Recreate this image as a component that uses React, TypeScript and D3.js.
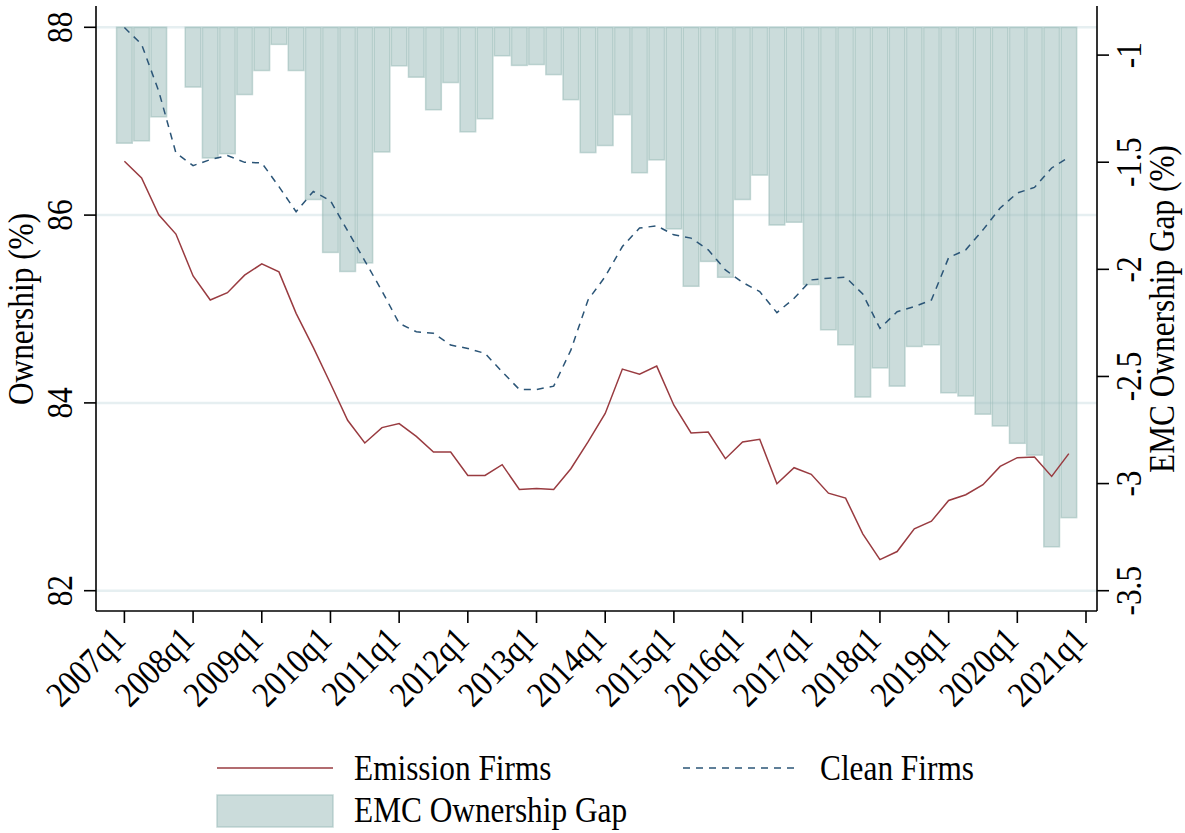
import React from "react";
import * as d3 from "d3";

const quarters: string[] = [];
for (let y = 2007; y <= 2020; y++) for (let q = 1; q <= 4; q++) quarters.push(`${y}q${q}`);

const emissionFirms = [
  86.573, 86.396, 86.004, 85.798, 85.352, 85.096, 85.174, 85.36, 85.481, 85.395,
  84.954, 84.591, 84.207, 83.815, 83.573, 83.737, 83.78, 83.644, 83.477, 83.477,
  83.228, 83.228, 83.342, 83.079, 83.089, 83.079, 83.299, 83.584, 83.887, 84.36,
  84.306, 84.392, 83.975, 83.68, 83.69, 83.406, 83.584, 83.612, 83.139, 83.31,
  83.239, 83.039, 82.986, 82.606, 82.331, 82.417, 82.659, 82.74, 82.961, 83.022,
  83.129, 83.324, 83.417, 83.423, 83.217, 83.46,
];

const cleanFirms = [
  87.997, 87.819, 87.32, 86.662, 86.527, 86.591, 86.634, 86.562, 86.556, 86.303,
  86.036, 86.252, 86.153, 85.833, 85.513, 85.192, 84.847, 84.758, 84.741, 84.616,
  84.58, 84.527, 84.331, 84.143, 84.143, 84.178, 84.562, 85.096, 85.345, 85.665,
  85.862, 85.886, 85.79, 85.755, 85.63, 85.416, 85.283, 85.185, 84.961, 85.114,
  85.31, 85.328, 85.338, 85.16, 84.794, 84.971, 85.025, 85.096, 85.547, 85.63,
  85.843, 86.075, 86.235, 86.295, 86.502, 86.615,
];

const emcGap = [
  -1.411, -1.4, -1.288, -0.87, -1.149, -1.48, -1.46, -1.184, -1.072, -0.95,
  -1.072, -1.674, -1.921, -2.01, -1.97, -1.452, -1.05, -1.103, -1.255, -1.128,
  -1.358, -1.297, -1.003, -1.048, -1.044, -1.091, -1.208, -1.455, -1.422, -1.278,
  -1.549, -1.489, -1.811, -2.079, -1.963, -2.037, -1.674, -1.56, -1.793, -1.78,
  -2.071, -2.282, -2.352, -2.596, -2.46, -2.545, -2.36, -2.352, -2.576, -2.591,
  -2.676, -2.731, -2.812, -2.867, -3.295, -3.159,
];

const xTickLabels = [
  "2007q1", "2008q1", "2009q1", "2010q1", "2011q1", "2012q1", "2013q1", "2014q1",
  "2015q1", "2016q1", "2017q1", "2018q1", "2019q1", "2020q1", "2021q1",
];
const leftTicks = [82, 84, 86, 88];
const rightTicks = [-3.5, -3, -2.5, -2, -1.5, -1];

const FONT = "'Liberation Serif', 'Times New Roman', serif";
const FS = 36;
const SX = 0.87;

export default function App() {
  const W = 1185, H = 833;
  const axL = 96, axR = 1097, axB = 611, axT = 6;
  const x = d3.scaleLinear().domain([0, 56]).range([124.4, 1086]);
  const yL = d3.scaleLinear().domain([82, 88]).range([590.7, 27.3]);
  const yR = d3.scaleLinear().domain([-3.5, -1]).range([590.7, 55.1]);
  const barTop = yL(88);
  const bw = x(1) - x(0);

  const lineE = d3.line<number>().x((_, i) => x(i)).y((d) => yL(d));
  const barFill = "#98bab7";

  return (
    <svg width={W} height={H} style={{ position: "absolute", left: 0, top: 0, background: "#fff" }}>
      {/* gridlines */}
      {leftTicks.map((t) => (
        <line key={t} x1={axL} x2={axR} y1={yL(t)} y2={yL(t)} stroke="#e6eff1" strokeWidth={2.5} />
      ))}
      {/* bars */}
      {emcGap.map((v, i) => (
        <rect
          key={i}
          x={x(i) - bw / 2 + 0.75}
          y={barTop}
          width={bw - 1.5}
          height={Math.max(0, yR(v) - barTop)}
          fill={barFill}
          fillOpacity={0.5}
          stroke={barFill}
          strokeOpacity={0.55}
          strokeWidth={1.5}
        />
      ))}
      {/* lines */}
      <path d={lineE(emissionFirms) || ""} fill="none" stroke="#993b40" strokeWidth={1.5} />
      <path d={lineE(cleanFirms) || ""} fill="none" stroke="#2b5577" strokeWidth={1.5} strokeDasharray="7,6" />
      {/* axes */}
      <line x1={axL} x2={axL} y1={axT} y2={axB} stroke="#000" strokeWidth={1.6} />
      <line x1={axR} x2={axR} y1={axT} y2={axB} stroke="#000" strokeWidth={1.6} />
      <line x1={axL} x2={axR} y1={axB} y2={axB} stroke="#000" strokeWidth={1.6} />
      {leftTicks.map((t) => (
        <g key={t}>
          <line x1={axL - 12} x2={axL} y1={yL(t)} y2={yL(t)} stroke="#000" strokeWidth={1.6} />
          <text
            transform={`translate(72,${yL(t)}) rotate(-90) scale(${SX},1)`}
            textAnchor="middle"
            fontFamily={FONT}
            fontSize={FS}
          >
            {t}
          </text>
        </g>
      ))}
      {rightTicks.map((t) => (
        <g key={t}>
          <line x1={axR} x2={axR + 12} y1={yR(t)} y2={yR(t)} stroke="#000" strokeWidth={1.6} />
          <text
            transform={`translate(1141,${yR(t)}) rotate(-90) scale(${SX},1)`}
            textAnchor="middle"
            fontFamily={FONT}
            fontSize={FS}
          >
            {t}
          </text>
        </g>
      ))}
      {xTickLabels.map((l, k) => (
        <g key={l}>
          <line x1={x(k * 4)} x2={x(k * 4)} y1={axB} y2={axB + 12} stroke="#000" strokeWidth={1.6} />
          <text
            transform={`translate(${x(k * 4) + 3},${axB + 31}) rotate(-45) scale(${SX},1)`}
            textAnchor="end"
            fontFamily={FONT}
            fontSize={FS}
          >
            {l}
          </text>
        </g>
      ))}
      {/* axis titles */}
      <text
        transform={`translate(33,${(yL(82) + yL(88)) / 2}) rotate(-90) scale(${SX},1)`}
        textAnchor="middle"
        fontFamily={FONT}
        fontSize={FS}
      >
        Ownership (%)
      </text>
      <text
        transform={`translate(1174,${(yR(-3.5) + yL(88)) / 2}) rotate(-90) scale(${SX},1)`}
        textAnchor="middle"
        fontFamily={FONT}
        fontSize={FS}
      >
        EMC Ownership Gap (%)
      </text>
      {/* legend */}
      <line x1={217} x2={333} y1={768} y2={768} stroke="#993b40" strokeWidth={1.5} />
      <text transform={`translate(354,780) scale(${SX},1)`} fontFamily={FONT} fontSize={FS}>
        Emission Firms
      </text>
      <line x1={683} x2={800} y1={768} y2={768} stroke="#2b5577" strokeWidth={1.5} strokeDasharray="7,6" />
      <text transform={`translate(820,780) scale(${SX},1)`} fontFamily={FONT} fontSize={FS}>
        Clean Firms
      </text>
      <rect x={217} y={795} width={116} height={32} fill={barFill} fillOpacity={0.5} stroke={barFill} strokeOpacity={0.55} strokeWidth={1.5} />
      <text transform={`translate(354,822) scale(${SX},1)`} fontFamily={FONT} fontSize={FS}>
        EMC Ownership Gap
      </text>
    </svg>
  );
}
